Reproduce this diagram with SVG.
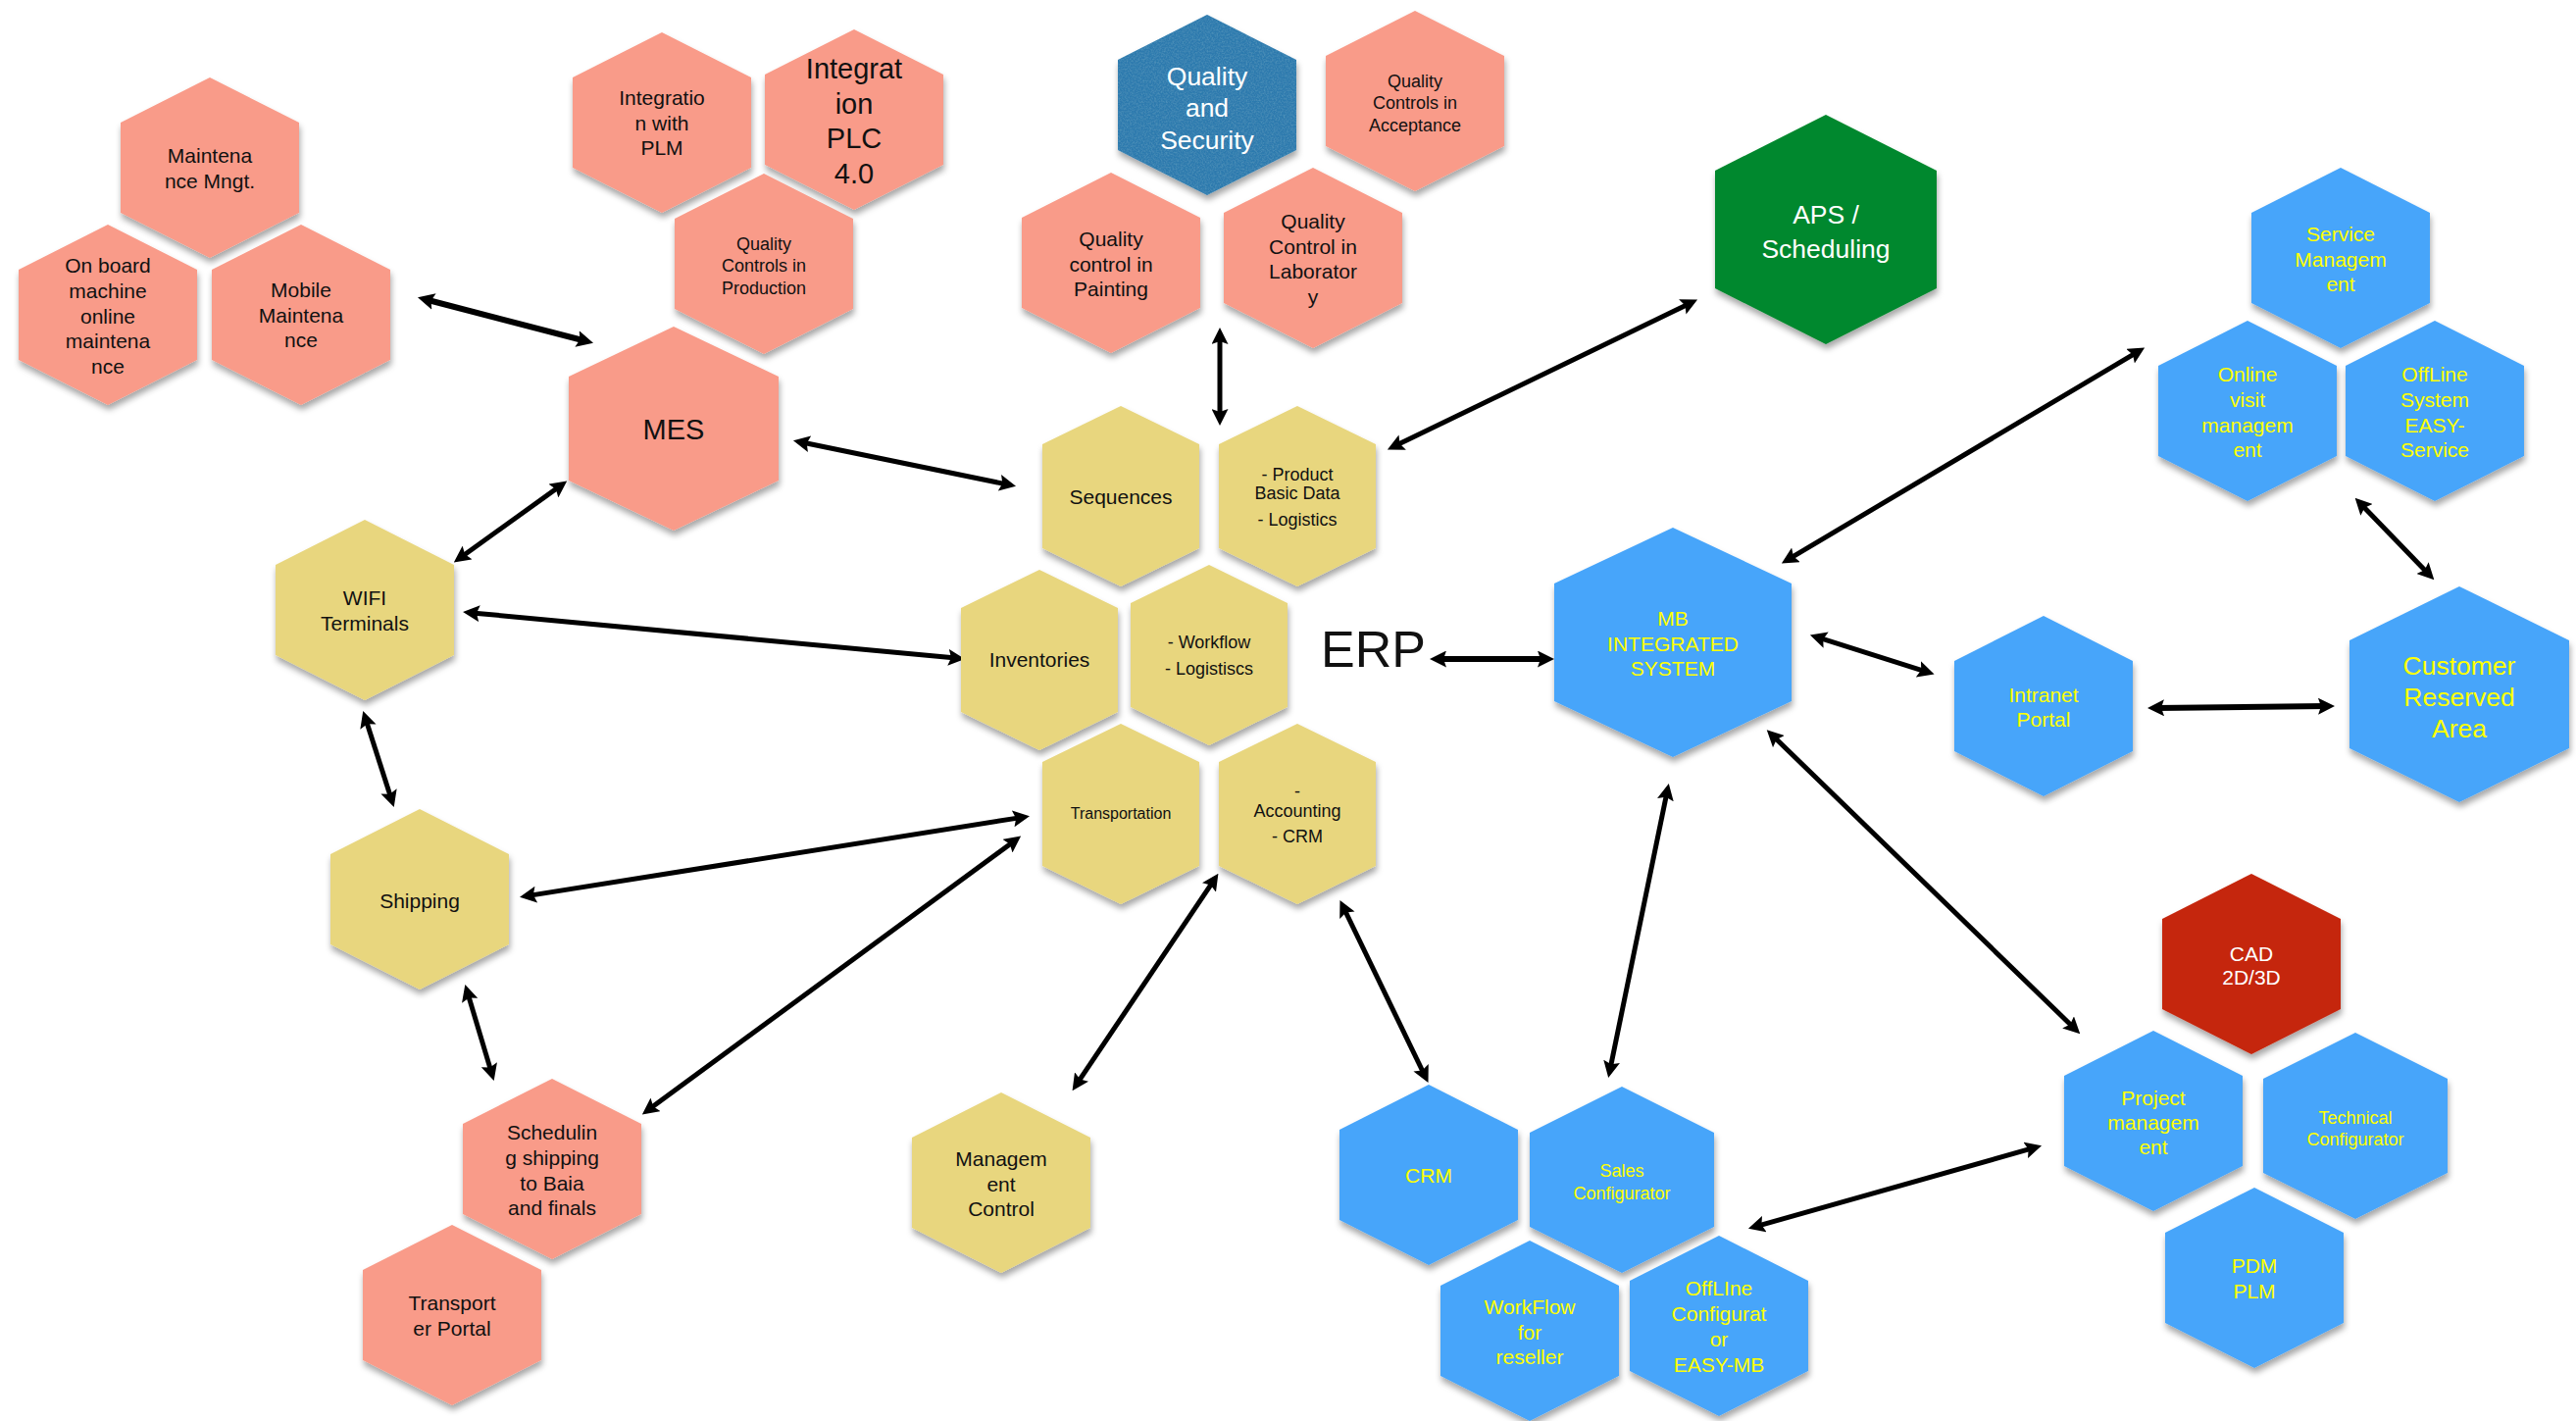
<svg xmlns="http://www.w3.org/2000/svg" xmlns:xlink="http://www.w3.org/1999/xlink" width="2627" height="1449" viewBox="0 0 2627 1449">
  <style>
    text{font-family:"Liberation Sans",Arial,sans-serif;text-anchor:middle}
    .hex{filter:url(#sh)}
    .salmon{fill:#F99B89}
    .sand{fill:#E8D67E}
    .sky{fill:#47A5FA}
    .green{fill:#03882D}
    .red{fill:#C5250A}
    .steel{fill:#2D7AAE;filter:url(#grain)}
    .dk{fill:#111}
    .yl{fill:#FFFF00}
    .wh{fill:#FFFFFF}
    .f16{font-size:16px}
    .f18{font-size:18px}
    .f21{font-size:21px}
    .f26{font-size:26.5px}
    .f29{font-size:29px}
    .link{fill:none;stroke:#000;stroke-width:5;marker-start:url(#ah);marker-end:url(#ah)}
    .heavy{stroke-width:6}
  </style>
  <defs>
    <filter id="sh" x="-15%" y="-15%" width="135%" height="135%">
      <feDropShadow dx="1" dy="5" stdDeviation="3" flood-color="#000" flood-opacity="0.35"/>
    </filter>
    <filter id="grain" x="-15%" y="-15%" width="135%" height="135%">
      <feTurbulence type="fractalNoise" baseFrequency="0.6" numOctaves="3" seed="7" result="noise"/>
      <feColorMatrix in="noise" type="matrix" values="0 0 0 0 0.10  0 0 0 0 0.33  0 0 0 0 0.52  1.3 0 0 0 -0.5" result="spots"/>
      <feComposite in="spots" in2="SourceGraphic" operator="in" result="tex"/>
      <feMerge result="fill"><feMergeNode in="SourceGraphic"/><feMergeNode in="tex"/></feMerge>
      <feDropShadow in="fill" dx="1" dy="5" stdDeviation="3" flood-color="#000" flood-opacity="0.35"/>
    </filter>
    <!-- notched arrowhead; the line stops inside the head, the tip reaches 9px further -->
    <marker id="ah" viewBox="0 0 17 17" refX="8" refY="8.5" markerWidth="17" markerHeight="17" markerUnits="userSpaceOnUse" orient="auto-start-reverse">
      <path d="M0,0 L17,8.5 L0,17 L3,8.5 Z" fill="#000"/>
    </marker>
    <!-- hexagon outlines centred on the origin, one per size -->
    <path id="hexS" d="M0,-92 L91,-46 L91,46 L0,92 L-91,46 L-91,-46 Z"/>
    <path id="hexE" d="M0,-92 L80,-53 L80,53 L0,92 L-80,53 L-80,-53 Z"/>
    <path id="hexM" d="M0,-104 L107,-53 L107,53 L0,104 L-107,53 L-107,-53 Z"/>
    <path id="hexA" d="M0,-117 L113,-60 L113,60 L0,117 L-113,60 L-113,-60 Z"/>
    <path id="hexB" d="M0,-117 L121,-60 L121,60 L0,117 L-121,60 L-121,-60 Z"/>
    <path id="hexC" d="M0,-110 L112,-55 L112,55 L0,110 L-112,55 L-112,-55 Z"/>
    <path id="hexW" d="M0,-95 L94,-48 L94,48 L0,95 L-94,48 L-94,-48 Z"/>
  </defs>

  <rect width="2627" height="1449" fill="#FFFFFF"/>

  <!-- connectors (double-headed) -->
  <g id="connectors">
    <path class="link heavy" d="M434.7,305.5 L596.3,347.5"/>
    <path class="link" d="M817.8,451 L1027.2,494"/>
    <path class="link" d="M1244,343 L1244,425"/>
    <path class="link" d="M1723,309.4 L1423,454.6"/>
    <path class="link" d="M570.9,495.8 L470.1,568.2"/>
    <path class="link" d="M481,624.9 L975,671.1"/>
    <path class="link" d="M373,733.5 L399,814.5"/>
    <path class="link" d="M538.9,913.4 L1041.1,833.6"/>
    <path class="link" d="M476.9,1012.6 L501.1,1093.4"/>
    <path class="link" d="M662.1,1131.1 L1033.9,857.9"/>
    <path class="link" d="M1098.6,1104.7 L1237.4,898.3"/>
    <path class="link" d="M1370.4,926 L1452.6,1096"/>
    <path class="link heavy" d="M1467,672 L1576,672"/>
    <path class="link" d="M1824.6,569.9 L2179.4,359.1"/>
    <path class="link" d="M1854.5,650.2 L1964,684.8"/>
    <path class="link heavy" d="M2199,721.9 L2372,720.1"/>
    <path class="link" d="M2476.1,584.8 L2407.9,514.2"/>
    <path class="link" d="M1700,807.8 L1642,1090.2"/>
    <path class="link" d="M1808.2,750.5 L2114.8,1048"/>
    <path class="link" d="M1791.6,1250.3 L2073.4,1170.7"/>
  </g>

  <!-- maintenance cluster -->
  <g id="maintenance-mngt" transform="translate(214,171)">
    <use href="#hexS" class="hex salmon"/>
    <text class="f21 dk"><tspan x="0" y="-5.5">Maintena</tspan><tspan x="0" y="20.5">nce Mngt.</tspan></text>
  </g>
  <g id="onboard-maintenance" transform="translate(110,321)">
    <use href="#hexS" class="hex salmon"/>
    <text class="f21 dk"><tspan x="0" y="-43">On board</tspan><tspan x="0" y="-17">machine</tspan><tspan x="0" y="8.5">online</tspan><tspan x="0" y="34">maintena</tspan><tspan x="0" y="60">nce</tspan></text>
  </g>
  <g id="mobile-maintenance" transform="translate(307,321)">
    <use href="#hexS" class="hex salmon"/>
    <text class="f21 dk"><tspan x="0" y="-18">Mobile</tspan><tspan x="0" y="7.5">Maintena</tspan><tspan x="0" y="33">nce</tspan></text>
  </g>

  <!-- production cluster -->
  <g id="integration-plm" transform="translate(675,125)">
    <use href="#hexS" class="hex salmon"/>
    <text class="f21 dk"><tspan x="0" y="-18">Integratio</tspan><tspan x="0" y="7.5">n with</tspan><tspan x="0" y="33">PLM</tspan></text>
  </g>
  <g id="integration-plc" transform="translate(871,122)">
    <use href="#hexS" class="hex salmon"/>
    <text class="f29 dk"><tspan x="0" y="-42">Integrat</tspan><tspan x="0" y="-6.5">ion</tspan><tspan x="0" y="29">PLC</tspan><tspan x="0" y="64.5">4.0</tspan></text>
  </g>
  <g id="qc-production" transform="translate(779,269)">
    <use href="#hexS" class="hex salmon"/>
    <text class="f18 dk"><tspan x="0" y="-14.5">Quality</tspan><tspan x="0" y="7.5">Controls in</tspan><tspan x="0" y="30.5">Production</tspan></text>
  </g>
  <g id="mes" transform="translate(687,437)">
    <use href="#hexM" class="hex salmon"/>
    <text class="f29 dk" x="0" y="11">MES</text>
  </g>

  <!-- quality cluster -->
  <g id="quality-security" transform="translate(1231,107)">
    <use href="#hexS" class="steel"/>
    <text class="f26 wh"><tspan x="0" y="-20.5">Quality</tspan><tspan x="0" y="11.5">and</tspan><tspan x="0" y="44.5">Security</tspan></text>
  </g>
  <g id="qc-acceptance" transform="translate(1443,103)">
    <use href="#hexS" class="hex salmon"/>
    <text class="f18 dk"><tspan x="0" y="-14.5">Quality</tspan><tspan x="0" y="7.5">Controls in</tspan><tspan x="0" y="30.5">Acceptance</tspan></text>
  </g>
  <g id="qc-painting" transform="translate(1133,268)">
    <use href="#hexS" class="hex salmon"/>
    <text class="f21 dk"><tspan x="0" y="-17">Quality</tspan><tspan x="0" y="8.5">control in</tspan><tspan x="0" y="34">Painting</tspan></text>
  </g>
  <g id="qc-laboratory" transform="translate(1339,263)">
    <use href="#hexS" class="hex salmon"/>
    <text class="f21 dk"><tspan x="0" y="-30">Quality</tspan><tspan x="0" y="-4.5">Control in</tspan><tspan x="0" y="21">Laborator</tspan><tspan x="0" y="47">y</tspan></text>
  </g>

  <g id="aps" transform="translate(1862,234)">
    <use href="#hexA" class="hex green"/>
    <text class="f26 wh"><tspan x="0" y="-6">APS /</tspan><tspan x="0" y="29">Scheduling</tspan></text>
  </g>

  <!-- ERP core -->
  <g id="sequences" transform="translate(1143,506)">
    <use href="#hexE" class="hex sand"/>
    <text class="f21 dk" x="0" y="7.5">Sequences</text>
  </g>
  <g id="product-data" transform="translate(1323,506)">
    <use href="#hexE" class="hex sand"/>
    <text class="f18 dk"><tspan x="0" y="-16.5">- Product</tspan><tspan x="0" y="2.5">Basic Data</tspan><tspan x="0" y="29.5">- Logistics</tspan></text>
  </g>
  <g id="inventories" transform="translate(1060,673)">
    <use href="#hexE" class="hex sand"/>
    <text class="f21 dk" x="0" y="6.5">Inventories</text>
  </g>
  <g id="workflow" transform="translate(1233,668)">
    <use href="#hexE" class="hex sand"/>
    <text class="f18 dk"><tspan x="0" y="-7.5">- Workflow</tspan><tspan x="0" y="19.5">- Logistiscs</tspan></text>
  </g>
  <g id="transportation" transform="translate(1143,830)">
    <use href="#hexE" class="hex sand"/>
    <text class="f16 dk" x="0" y="4.5">Transportation</text>
  </g>
  <g id="accounting" transform="translate(1323,830)">
    <use href="#hexE" class="hex sand"/>
    <text class="f18 dk"><tspan x="0" y="-17">-</tspan><tspan x="0" y="2.5">Accounting</tspan><tspan x="0" y="28.5">- CRM</tspan></text>
  </g>
  <text id="erp-title" x="1347" y="680" style="font-size:52px;text-anchor:start" class="dk">ERP</text>

  <!-- shop floor and logistics -->
  <g id="wifi-terminals" transform="translate(372,622)">
    <use href="#hexS" class="hex sand"/>
    <text class="f21 dk"><tspan x="0" y="-5.5">WIFI</tspan><tspan x="0" y="20.5">Terminals</tspan></text>
  </g>
  <g id="shipping" transform="translate(428,917)">
    <use href="#hexS" class="hex sand"/>
    <text class="f21 dk" x="0" y="8.5">Shipping</text>
  </g>
  <g id="scheduling-shipping" transform="translate(563,1192)">
    <use href="#hexS" class="hex salmon"/>
    <text class="f21 dk"><tspan x="0" y="-30">Schedulin</tspan><tspan x="0" y="-4">g shipping</tspan><tspan x="0" y="21.5">to Baia</tspan><tspan x="0" y="47">and finals</tspan></text>
  </g>
  <g id="transporter-portal" transform="translate(461,1341)">
    <use href="#hexS" class="hex salmon"/>
    <text class="f21 dk"><tspan x="0" y="-5">Transport</tspan><tspan x="0" y="21">er Portal</tspan></text>
  </g>
  <g id="management-control" transform="translate(1021,1206)">
    <use href="#hexS" class="hex sand"/>
    <text class="f21 dk"><tspan x="0" y="-17">Managem</tspan><tspan x="0" y="8.5">ent</tspan><tspan x="0" y="34">Control</tspan></text>
  </g>

  <!-- MB integrated system and satellites -->
  <g id="mb-integrated" transform="translate(1706,655)">
    <use href="#hexB" class="hex sky"/>
    <text class="f21 yl"><tspan x="0" y="-17">MB</tspan><tspan x="0" y="8.5">INTEGRATED</tspan><tspan x="0" y="33.5">SYSTEM</tspan></text>
  </g>
  <g id="service-management" transform="translate(2387,263)">
    <use href="#hexS" class="hex sky"/>
    <text class="f21 yl"><tspan x="0" y="-17">Service</tspan><tspan x="0" y="8.5">Managem</tspan><tspan x="0" y="34">ent</tspan></text>
  </g>
  <g id="online-visit" transform="translate(2292,419)">
    <use href="#hexS" class="hex sky"/>
    <text class="f21 yl"><tspan x="0" y="-30">Online</tspan><tspan x="0" y="-4.5">visit</tspan><tspan x="0" y="21.5">managem</tspan><tspan x="0" y="47">ent</tspan></text>
  </g>
  <g id="offline-service" transform="translate(2483,419)">
    <use href="#hexS" class="hex sky"/>
    <text class="f21 yl"><tspan x="0" y="-30">OffLine</tspan><tspan x="0" y="-4.5">System</tspan><tspan x="0" y="21.5">EASY-</tspan><tspan x="0" y="47">Service</tspan></text>
  </g>
  <g id="intranet-portal" transform="translate(2084,720)">
    <use href="#hexS" class="hex sky"/>
    <text class="f21 yl"><tspan x="0" y="-4.5">Intranet</tspan><tspan x="0" y="20.5">Portal</tspan></text>
  </g>
  <g id="customer-area" transform="translate(2508,708)">
    <use href="#hexC" class="hex sky"/>
    <text class="f26 yl"><tspan x="0" y="-20.5">Customer</tspan><tspan x="0" y="11.5">Reserved</tspan><tspan x="0" y="43.5">Area</tspan></text>
  </g>

  <!-- engineering cluster -->
  <g id="cad" transform="translate(2296,983)">
    <use href="#hexS" class="hex red"/>
    <text class="f21 wh"><tspan x="0" y="-3.5">CAD</tspan><tspan x="0" y="20.5">2D/3D</tspan></text>
  </g>
  <g id="project-management" transform="translate(2196,1143)">
    <use href="#hexS" class="hex sky"/>
    <text class="f21 yl"><tspan x="0" y="-16.5">Project</tspan><tspan x="0" y="8.5">managem</tspan><tspan x="0" y="34">ent</tspan></text>
  </g>
  <g id="technical-configurator" transform="translate(2402,1148)">
    <use href="#hexW" class="hex sky"/>
    <text class="f18 yl"><tspan x="0" y="-2.5">Technical</tspan><tspan x="0" y="19.5">Configurator</tspan></text>
  </g>
  <g id="pdm-plm" transform="translate(2299,1303)">
    <use href="#hexS" class="hex sky"/>
    <text class="f21 yl"><tspan x="0" y="-5.5">PDM</tspan><tspan x="0" y="20.5">PLM</tspan></text>
  </g>

  <!-- sales cluster -->
  <g id="crm" transform="translate(1457,1198)">
    <use href="#hexS" class="hex sky"/>
    <text class="f21 yl" x="0" y="7.5">CRM</text>
  </g>
  <g id="sales-configurator" transform="translate(1654,1203)">
    <use href="#hexW" class="hex sky"/>
    <text class="f18 yl"><tspan x="0" y="-3.5">Sales</tspan><tspan x="0" y="19.5">Configurator</tspan></text>
  </g>
  <g id="workflow-reseller" transform="translate(1560,1357)">
    <use href="#hexS" class="hex sky"/>
    <text class="f21 yl"><tspan x="0" y="-17.5">WorkFlow</tspan><tspan x="0" y="8.5">for</tspan><tspan x="0" y="33.5">reseller</tspan></text>
  </g>
  <g id="offline-configurator" transform="translate(1753,1352)">
    <use href="#hexS" class="hex sky"/>
    <text class="f21 yl"><tspan x="0" y="-31.5">OffLIne</tspan><tspan x="0" y="-5">Configurat</tspan><tspan x="0" y="21">or</tspan><tspan x="0" y="46.5">EASY-MB</tspan></text>
  </g>
</svg>
